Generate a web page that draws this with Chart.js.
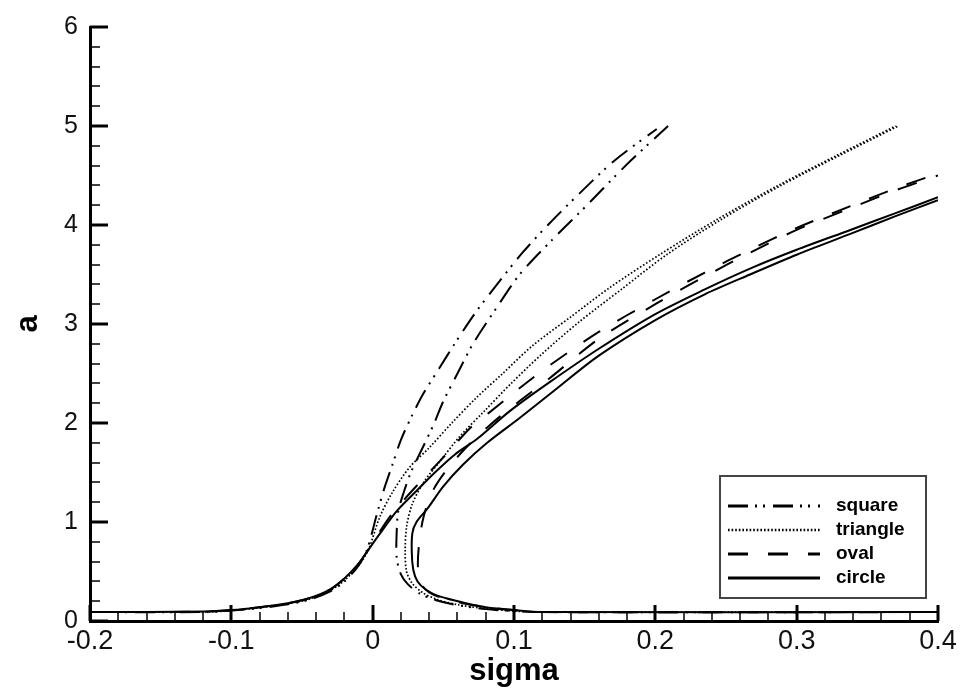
<!DOCTYPE html>
<html>
<head>
<meta charset="utf-8">
<script src="https://cdn.jsdelivr.net/npm/chart.js@4.4.1/dist/chart.umd.min.js"></script>
<style>
  html, body { margin: 0; padding: 0; background: #fff; }
  #wrap { width: 962px; height: 690px; }
</style>
</head>
<body>
<div id="wrap"><canvas id="chart"></canvas></div>
<script>
// ── Data (sigma, a) ─────────────────────────────────────────────
const shapeNames = ["square", "triangle", "oval", "circle"];
const xTickValues = [-0.2, -0.1, 0, 0.1, 0.2, 0.3, 0.4];
const yTickValues = [0, 1, 2, 3, 4, 5, 6];

// square: left branch / right branch
const squareLeftSigma  = [-0.2, -0.12, -0.1, -0.08, -0.06, -0.045, -0.03, -0.02, -0.01, -0.004, 0.003, 0.008, 0.014, 0.02, 0.028, 0.036, 0.047, 0.058, 0.072, 0.088, 0.106, 0.124, 0.145, 0.171, 0.201];
const squareLeftA      = [0.09, 0.09, 0.105, 0.13, 0.17, 0.215, 0.3, 0.4, 0.56, 0.72, 1.08, 1.33, 1.58, 1.83, 2.08, 2.3, 2.55, 2.8, 3.1, 3.4, 3.72, 4.0, 4.3, 4.65, 4.97];
const squareRightSigma = [0.4, 0.12, 0.1, 0.08, 0.06, 0.045, 0.033, 0.025, 0.02, 0.017, 0.017, 0.018, 0.022, 0.027, 0.035, 0.043, 0.05, 0.06, 0.071, 0.087, 0.104, 0.127, 0.153, 0.179, 0.209];
const squareRightA     = [0.09, 0.09, 0.1, 0.12, 0.16, 0.21, 0.28, 0.37, 0.47, 0.64, 0.9, 1.1, 1.3, 1.5, 1.74, 1.98, 2.22, 2.5, 2.8, 3.15, 3.5, 3.85, 4.22, 4.6, 5.0];

// triangle
const triangleLeftSigma  = [-0.2, -0.12, -0.1, -0.08, -0.06, -0.045, -0.03, -0.02, -0.01, -0.003, 0.005, 0.014, 0.026, 0.04, 0.056, 0.073, 0.092, 0.113, 0.14, 0.168, 0.203, 0.243, 0.287, 0.328, 0.37];
const triangleLeftA      = [0.09, 0.09, 0.105, 0.135, 0.175, 0.22, 0.31, 0.41, 0.56, 0.72, 1.05, 1.3, 1.55, 1.75, 2.0, 2.25, 2.5, 2.78, 3.07, 3.37, 3.7, 4.05, 4.4, 4.7, 5.0];
const triangleRightSigma = [0.4, 0.12, 0.1, 0.08, 0.06, 0.045, 0.035, 0.028, 0.024, 0.023, 0.024, 0.028, 0.036, 0.048, 0.062, 0.079, 0.098, 0.12, 0.146, 0.176, 0.208, 0.246, 0.289, 0.33, 0.372];
const triangleRightA     = [0.09, 0.09, 0.1, 0.125, 0.165, 0.22, 0.29, 0.38, 0.5, 0.7, 0.95, 1.18, 1.4, 1.62, 1.87, 2.12, 2.4, 2.7, 3.02, 3.35, 3.7, 4.05, 4.4, 4.7, 5.0];

// oval
const ovalLeftSigma  = [-0.2, -0.12, -0.1, -0.08, -0.06, -0.045, -0.03, -0.02, -0.01, -0.004, 0.004, 0.012, 0.025, 0.04, 0.055, 0.069, 0.082, 0.095, 0.11, 0.125, 0.16, 0.2, 0.235, 0.267, 0.3, 0.338, 0.37, 0.4];
const ovalLeftA      = [0.09, 0.095, 0.11, 0.14, 0.18, 0.23, 0.32, 0.43, 0.58, 0.7, 0.88, 1.05, 1.27, 1.5, 1.73, 1.95, 2.1, 2.25, 2.42, 2.58, 2.92, 3.25, 3.52, 3.75, 3.97, 4.19, 4.37, 4.52];
const ovalRightSigma = [0.4, 0.12, 0.1, 0.08, 0.064, 0.05, 0.04, 0.034, 0.032, 0.033, 0.036, 0.042, 0.052, 0.066, 0.083, 0.102, 0.125, 0.16, 0.2, 0.235, 0.267, 0.3, 0.338, 0.37, 0.4];
const ovalRightA     = [0.09, 0.09, 0.11, 0.14, 0.18, 0.23, 0.29, 0.38, 0.55, 0.8, 1.05, 1.3, 1.52, 1.75, 1.98, 2.2, 2.45, 2.85, 3.2, 3.48, 3.72, 3.95, 4.17, 4.35, 4.5];

// circle
const circleLeftSigma  = [-0.2, -0.12, -0.1, -0.08, -0.06, -0.045, -0.03, -0.02, -0.01, -0.004, 0.005, 0.017, 0.03, 0.044, 0.058, 0.074, 0.097, 0.125, 0.16, 0.2, 0.235, 0.267, 0.3, 0.338, 0.37, 0.4];
const circleLeftA      = [0.09, 0.095, 0.11, 0.14, 0.18, 0.23, 0.32, 0.43, 0.58, 0.7, 0.88, 1.11, 1.3, 1.5, 1.68, 1.84, 2.12, 2.41, 2.75, 3.1, 3.35, 3.56, 3.75, 3.95, 4.12, 4.28];
const circleRightSigma = [0.4, 0.12, 0.1, 0.08, 0.066, 0.052, 0.042, 0.034, 0.03, 0.028, 0.028, 0.031, 0.039, 0.05, 0.064, 0.081, 0.104, 0.127, 0.16, 0.2, 0.235, 0.267, 0.3, 0.338, 0.37, 0.4];
const circleRightA     = [0.09, 0.09, 0.11, 0.14, 0.18, 0.23, 0.28, 0.36, 0.45, 0.6, 0.88, 1.0, 1.14, 1.36, 1.58, 1.8, 2.05, 2.31, 2.68, 3.04, 3.3, 3.5, 3.7, 3.91, 4.09, 4.25];

// ── Line styles per shape ───────────────────────────────────────
const shapeStyles = {
  square:   { dash: [20, 7, 2, 6, 2, 8], width: 2 },
  triangle: { dash: [1.6, 2],            width: 1.7 },
  oval:     { dash: [20, 20],            width: 2 },
  circle:   { dash: [],                  width: 2 },
};

const toPoints = (xs, ys) => xs.map((x, i) => ({ x, y: ys[i] }));

function branch(name, xs, ys, dashOffset) {
  const st = shapeStyles[name];
  return {
    label: name,
    data: toPoints(xs, ys),
    showLine: true,
    borderColor: "#000",
    borderWidth: st.width,
    borderDash: st.dash,
    borderDashOffset: dashOffset || 0,
    pointRadius: 0,
    tension: 0.3,
    fill: false,
  };
}

const datasets = [
  branch("circle", circleLeftSigma, circleLeftA),
  branch("circle", circleRightSigma, circleRightA),
  branch("oval", ovalLeftSigma, ovalLeftA),
  branch("oval", ovalRightSigma, ovalRightA, 20),
  branch("triangle", triangleLeftSigma, triangleLeftA),
  branch("triangle", triangleRightSigma, triangleRightA),
  branch("square", squareLeftSigma, squareLeftA),
  branch("square", squareRightSigma, squareRightA, 10),
];

// ── Inward tick marks (Tecplot style) ───────────────────────────
const innerTicks = {
  id: "innerTicks",
  afterDraw(chart) {
    const { ctx, chartArea, scales: { x, y } } = chart;
    ctx.save();
    ctx.strokeStyle = "#000";
    for (let i = 0; i <= 30; i++) {
      const v = -0.2 + i * 0.02;
      const px = Math.round(x.getPixelForValue(v));
      const major = i % 5 === 0;
      ctx.lineWidth = major ? 3 : 1.5;
      ctx.beginPath();
      ctx.moveTo(px, chartArea.bottom);
      ctx.lineTo(px, chartArea.bottom - (major ? 16 : 9));
      ctx.stroke();
    }
    for (let i = 0; i <= 30; i++) {
      const v = i * 0.2;
      const py = Math.round(y.getPixelForValue(v));
      const major = i % 5 === 0;
      ctx.lineWidth = major ? 3 : 1.5;
      ctx.beginPath();
      ctx.moveTo(chartArea.left, py);
      ctx.lineTo(chartArea.left + (major ? 18 : 10), py);
      ctx.stroke();
    }
    ctx.restore();
  },
};

// ── Boxed legend, lower right ───────────────────────────────────
const boxLegend = {
  id: "boxLegend",
  afterDraw(chart) {
    const { ctx, chartArea } = chart;
    const lx = chartArea.right - 218;
    const ly = chartArea.bottom - 145;
    ctx.save();
    ctx.fillStyle = "#fff";
    ctx.fillRect(lx, ly, 206, 122);
    ctx.strokeStyle = "#444";
    ctx.lineWidth = 2;
    ctx.strokeRect(lx, ly, 206, 122);
    shapeNames.forEach((name, i) => {
      const st = shapeStyles[name];
      const yy = ly + 30 + i * 24;
      ctx.strokeStyle = "#000";
      ctx.lineWidth = st.width + 1;
      ctx.setLineDash(st.dash);
      ctx.beginPath();
      ctx.moveTo(lx + 8, yy);
      ctx.lineTo(lx + 100, yy);
      ctx.stroke();
      ctx.setLineDash([]);
      ctx.fillStyle = "#000";
      ctx.font = "bold 19px 'Liberation Sans', Arial, sans-serif";
      ctx.textBaseline = "middle";
      ctx.fillText(name, lx + 116, yy);
    });
    ctx.restore();
  },
};

new Chart(document.getElementById("chart"), {
  type: "scatter",
  data: { datasets },
  plugins: [innerTicks, boxLegend],
  options: {
    responsive: true,
    maintainAspectRatio: false,
    animation: false,
    layout: { padding: { left: 0, right: 24, top: 22, bottom: 0 } },
    plugins: {
      legend: { display: false },
      tooltip: { enabled: false },
    },
    scales: {
      x: {
        type: "linear",
        min: -0.2,
        max: 0.4,
        afterBuildTicks: (s) => { s.ticks = xTickValues.map((v) => ({ value: v })); },
        afterFit: (s) => { s.height = 69; },
        ticks: {
          color: "#111",
          padding: 4,
          maxRotation: 0,
          font: { size: 27, family: "'Liberation Sans', Arial, sans-serif" },
          callback: (v) => String(+(+v).toFixed(1)),
        },
        grid: { display: false, drawTicks: false },
        border: { display: true, color: "#000", width: 3 },
        title: {
          display: true,
          text: "sigma",
          color: "#000",
          padding: { top: 0, bottom: 0 },
          font: { size: 31, weight: "bold", family: "'Liberation Sans', Arial, sans-serif" },
        },
      },
      y: {
        type: "linear",
        min: 0,
        max: 6,
        afterBuildTicks: (s) => { s.ticks = yTickValues.map((v) => ({ value: v })); },
        afterFit: (s) => { s.width = 90; },
        ticks: {
          color: "#111",
          padding: 12,
          font: { size: 25, family: "'Liberation Sans', Arial, sans-serif" },
          callback: (v) => String(v),
        },
        grid: { display: false, drawTicks: false },
        border: { display: true, color: "#000", width: 3 },
        title: {
          display: true,
          text: "a",
          color: "#000",
          padding: { top: 10, bottom: 0 },
          font: { size: 31, weight: "bold", family: "'Liberation Sans', Arial, sans-serif" },
        },
      },
    },
  },
});
</script>
</body>
</html>
